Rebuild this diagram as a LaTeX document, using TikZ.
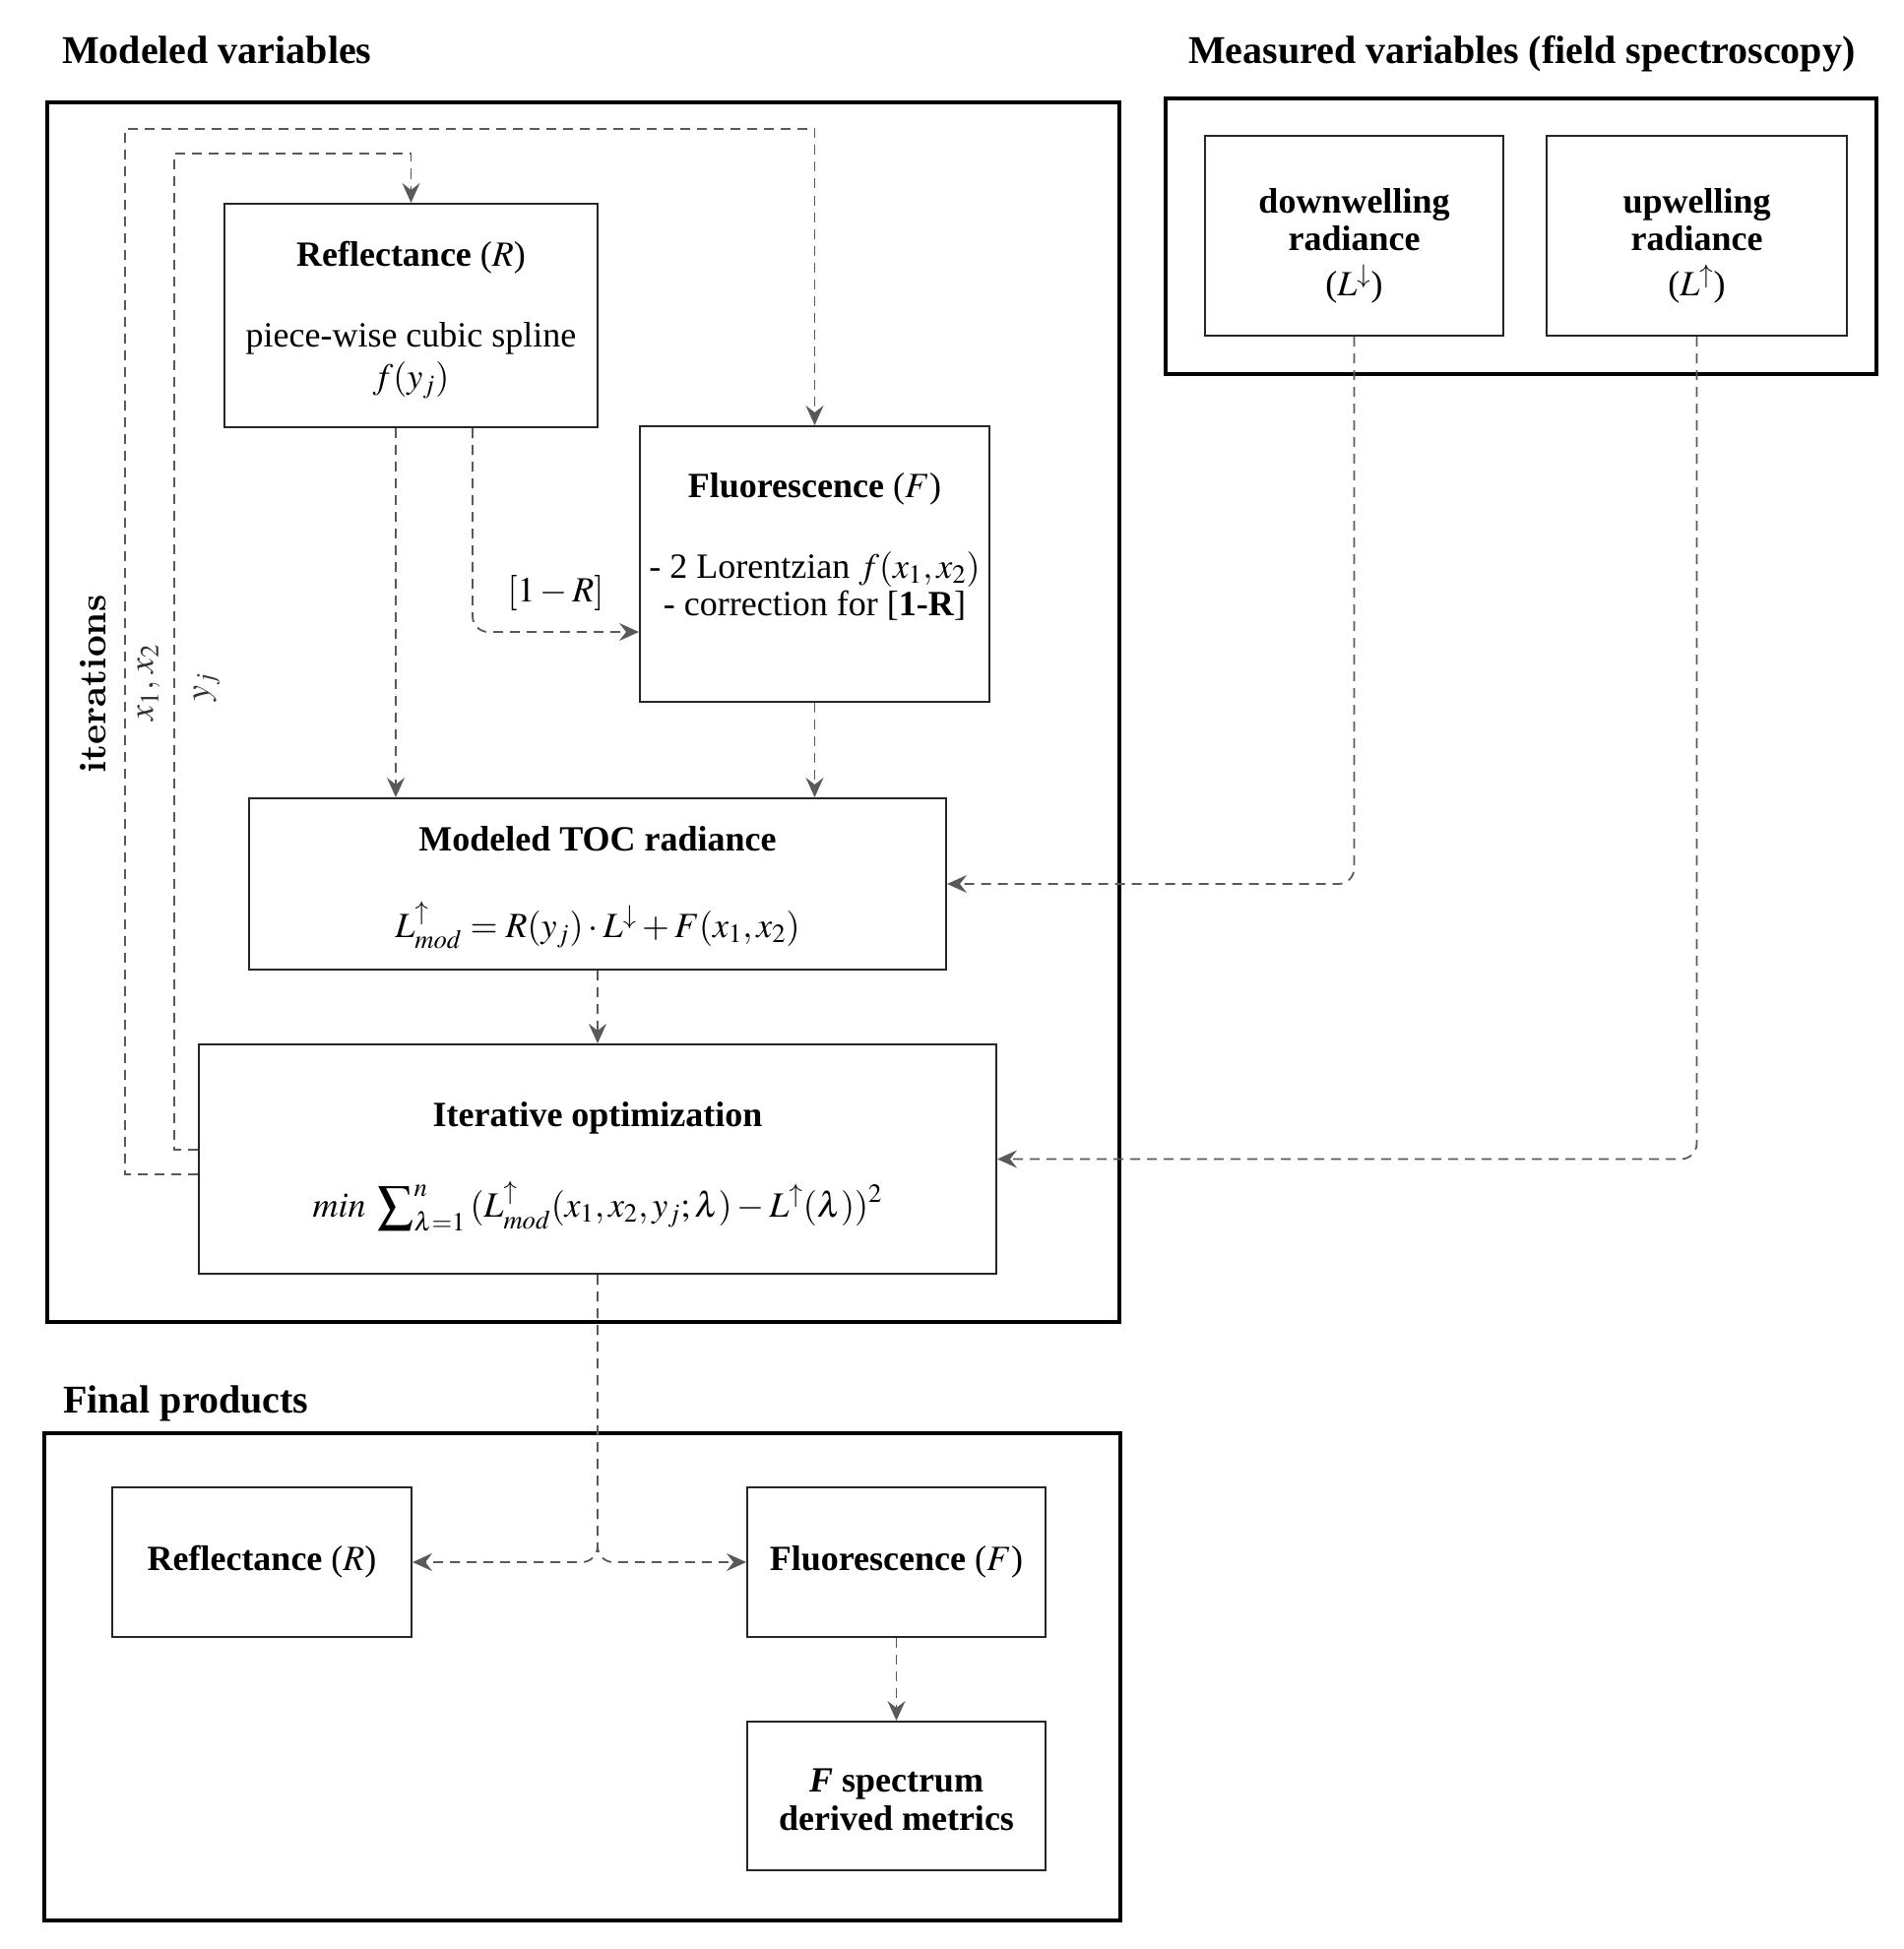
\documentclass[tikz,border=0pt]{standalone}
\usepackage{mathptmx}
\usepackage[no-math]{fontspec}
\setmainfont{Liberation Serif}
\newfontfamily\lmbf{lmroman10-bold.otf}
\usepackage{tikz}
\usetikzlibrary{calc, positioning, arrows.meta}

\begin{document}
\begin{tikzpicture}[x=0.5pt,y=-0.5pt,
                    box/.style={rectangle,draw=black!85,line width=1pt,align=center,inner sep=0pt,font=\fontsize{18}{21}\selectfont},
                    frame/.style={draw=black,line width=2pt},
                    head/.style={anchor=base west,font=\fontsize{20}{24}\selectfont\bfseries},
                    link/.style={draw=black!65,line width=0.9pt,dash pattern=on 5pt off 3.5pt,-{Stealth[length=10pt,width=9pt,inset=3.5pt]}},
                    side/.style={rotate=90,text=black!80,font=\fontsize{18}{21}\selectfont}]

  \useasboundingbox (0,0) rectangle (1933,1980);

  % headings
  \node[head] (hmod) at (56,65) {Modeled variables};
  \node[head] (hmeas) at (1200,65) {Measured variables (field spectroscopy)};
  \node[head] (hfin) at (57,1435) {Final products};

  % frames
  \draw[frame] (48,104) rectangle (1137,1343);
  \draw[frame] (1184,100) rectangle (1906,380);
  \draw[frame] (45,1456) rectangle (1138,1951);

  % modeled variables
  \node[box,minimum width=189.5pt,minimum height=113.5pt] (refl) at (417.5,320.5)
    {\rule{0pt}{17pt}\textbf{Reflectance} ($R$)\\[20pt] piece-wise cubic spline\\ $f(y_j)$};
  \node[box,minimum width=177.5pt,minimum height=140pt] (fluo) at (827.5,573) {};
  \node[align=center,inner sep=0pt,font=\fontsize{18}{19}\selectfont] (fluotxt) at (827.5,555)
    {\textbf{Fluorescence} ($F$)\\[22pt] - 2 Lorentzian $f(x_1,x_2)$\\ - correction for [\textbf{1-R}]};
  \node[box,minimum width=354pt,minimum height=87pt] (toc) at (607,898)
    {\rule{0pt}{16pt}\textbf{Modeled TOC radiance}\\[23pt] $L^{\uparrow}_{mod}=R(y_j)\cdot L^{\downarrow}+F(x_1,x_2)$};
  \node[box,minimum width=405pt,minimum height=116.5pt] (opt) at (607,1177.5)
    {\rule{0pt}{20.5pt}\textbf{Iterative optimization}\\[23pt] $\displaystyle min\;\sum\nolimits_{\lambda=1}^{n}\,(L^{\uparrow}_{mod}(x_1,x_2,y_j;\lambda)-L^{\uparrow}(\lambda))^2$};

  % measured variables
  \node[box,minimum width=151.5pt,minimum height=101.5pt,font=\fontsize{18}{19}\selectfont] (down) at (1375.5,239.5)
    {\rule{0pt}{23pt}\textbf{downwelling}\\ \textbf{radiance}\\[4pt] ($L^{\downarrow}$)};
  \node[box,minimum width=152.5pt,minimum height=101.5pt,font=\fontsize{18}{19}\selectfont] (up) at (1723.5,239.5)
    {\rule{0pt}{23pt}\textbf{upwelling}\\ \textbf{radiance}\\[4pt] ($L^{\uparrow}$)};

  % final products
  \node[box,minimum width=152pt,minimum height=76pt] (frefl) at (266,1587) {\textbf{Reflectance} ($R$)};
  \node[box,minimum width=151.5pt,minimum height=76pt] (ffluo) at (910.5,1587) {\textbf{Fluorescence} ($F$)};
  \node[box,minimum width=151.5pt,minimum height=75.5pt,font=\fontsize{18}{19.5}\selectfont] (metr) at (910.5,1824.5)
    {\rule{0pt}{16pt}\textbf{\textit{F} spectrum}\\ \textbf{derived metrics}};

  % iteration labels
  \node[side,text=black,font=\lmbf\fontsize{19}{21}\selectfont] (iter) at (95,695) {iterations};
  \node[side] (xlab) at (151,693) {$x_1,\,x_2$};
  \node[side] (ylab) at (210,698) {$y_j$};

  % loops back from the optimization
  \coordinate (outer) at (127,131);
  \coordinate (inner) at (177,156);
  \draw[link] ([yshift=-7.75pt]opt.west) -| (outer) -| (fluo.north);
  \draw[link] ([yshift=4.75pt]opt.west) -| (inner) -| (refl.north);

  \draw[link] ([xshift=-7.75pt]refl.south) -- ([xshift=-7.75pt]refl.south |- toc.north);
  \draw[link,rounded corners=8pt] ([xshift=31.25pt]refl.south) |-
    node[pos=0.75,above=7pt,text=black,font=\fontsize{18}{21}\selectfont] (onemr) {$[1-R]$} ([yshift=-34.5pt]fluo.west);
  \draw[link] (fluo.south) -- (fluo.south |- toc.north);
  \draw[link] (toc.south) -- (opt.north);
  \draw[link,rounded corners=8pt] (down.south) |- (toc.east);
  \draw[link,rounded corners=8pt] (up.south) |- (opt.east);

  \draw[link,rounded corners=8pt] (opt.south) |- (frefl.east);
  \draw[link,rounded corners=8pt] (opt.south) |- (ffluo.west);
  \draw[link] (ffluo.south) -- (metr.north);
\end{tikzpicture}
\end{document}
